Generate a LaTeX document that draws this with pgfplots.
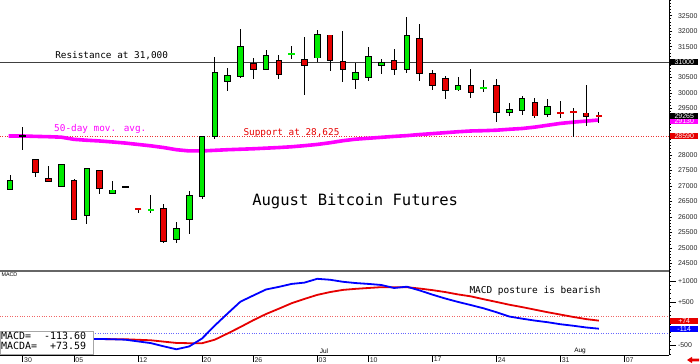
\documentclass[border=0pt]{standalone}
\usepackage{pgfplots}
\pgfplotsset{compat=1.18}
\usepackage{pgfplotstable}
\usepackage{fontspec}
\setmainfont{Liberation Sans}
\newfontfamily\mono{DejaVu Sans Mono}
\definecolor{cgreen}{RGB}{0,235,0}
\definecolor{cred}{RGB}{230,0,0}
\definecolor{cmag}{RGB}{255,0,255}
\definecolor{cblue}{RGB}{0,0,255}

% i = trading day (1 = May 26, 2023), open high low close
\pgfplotstableread{
i o h l c
1 26891 27343 26891 27169
5 26988 27708 26988 27676
7 26051 27569 25770 27569
9 26749 27169 26749 26868
14 25275 25834 25166 25618
15 25899 26826 25447 26675
16 26652 28591 26587 28591
17 28591 31156 28526 30658
18 30380 30810 30077 30574
19 30529 32061 30487 31498
21 30768 31392 30768 31221
25 31133 32038 31004 31886
28 30445 30962 30141 30658
29 30510 31479 30390 31175
30 30897 31111 30616 30994
32 30768 32448 30639 31867
36 30099 30529 30067 30251
40 29366 29670 29269 29463
41 29443 29906 29292 29818
43 29314 29799 29237 29550
}\greencandles
\pgfplotstableread{
i o h l c
3 27838 27838 27279 27440
4 27246 27644 27149 27149
6 27169 27214 25899 25899
8 27492 27492 26749 26910
13 26277 26406 25166 25211
20 30962 31133 30465 30768
22 31036 31221 30465 30594
24 31069 31802 29928 30897
26 31876 31876 30713 31036
27 31027 32015 30367 30746
31 31059 31414 30574 30746
33 31757 32222 30390 30639
34 30639 30746 30099 30251
35 30465 30552 29809 30077
37 30229 30768 29831 30012
39 30229 30445 29075 29379
42 29702 29831 29185 29259
46 29356 30251 28926 29227
}\redcandles
\pgfplotstableread{
i o h l c
12 26215 26697 26135 26230
23 31255 31521 31091 31270
38 30155 30413 30025 30170
}\greendash
\pgfplotstableread{
i o h l c
11 26270 26270 26135 26255
44 29365 29754 29204 29350
45 29385 29508 28571 29370
47 29265 29398 29023 29255
}\reddash
\pgfplotstableread{
i o h l c
2 28600 28914 28161 28600
10 26956 26970 26945 26956
}\blackdash

\pgfplotsset{
  errb/.style={draw=none, mark=none, forget plot,
    error bars/y dir=both, error bars/y explicit, error bars/error mark=none},
  wick/.style={errb, error bars/error bar style={draw=black, line width=0.9bp}},
  bodyout/.style={errb, error bars/error bar style={draw=black, line width=6.6bp}},
  bodyin/.style={errb, error bars/error bar style={draw=#1, line width=4.6bp}},
  dash/.style={only marks, forget plot, mark=-, mark size=3.3bp, mark options={draw=#1, line width=1.8bp}},
}
\newcommand{\wicks}[1]{\addplot[wick] table[x=i, y expr={(\thisrow{h}+\thisrow{l})/2}, y error expr={(\thisrow{h}-\thisrow{l})/2}] {#1};}
\newcommand{\bodies}[2]{%
  \addplot[bodyout] table[x=i, y expr={(\thisrow{o}+\thisrow{c})/2}, y error expr={abs(\thisrow{o}-\thisrow{c})/2+16}] {#1};
  \addplot[bodyin=#2] table[x=i, y expr={(\thisrow{o}+\thisrow{c})/2}, y error expr={max(abs(\thisrow{o}-\thisrow{c})/2-16,0)}] {#1};}
\newcommand{\dashes}[2]{\addplot[dash=#2] table[x=i, y expr={(\thisrow{o}+\thisrow{c})/2}] {#1};}

\begin{document}
\begin{tikzpicture}
\useasboundingbox (0bp,0bp) rectangle (700bp,364bp);
% ---------------- price panel
\begin{axis}[
  at={(0bp,93bp)}, anchor=south west, scale only axis,
  width=669bp, height=271bp,
  xmin=0.219, xmax=52.48, ymin=24251, ymax=33007,
  clip=false,
  axis x line*=bottom, axis y line*=right,
  x axis line style={draw=black!60, line width=2.6bp},
  y axis line style={draw=black, line width=0.8bp},
  xtick=\empty,
  ytick={24500,25000,25500,26000,26500,27000,27500,28000,29500,30000,30500,31500,32000,32500},
  minor ytick={24300,24400,...,33000},
  tick align=outside, major tick length=3bp, minor tick length=1.5bp,
  every tick/.style={black, line width=0.6bp},
  scaled y ticks=false,
  /pgf/number format/.cd, 1000 sep={}, assume math mode=true,
  /pgfplots/.cd,
  yticklabel style={font=\fontsize{7}{7}\selectfont, text=black!85, anchor=west, xshift=2.5bp},
]
\addplot[cred!80, dotted, line width=0.5bp] coordinates {(0.219,28590) (52.48,28590)};
\addplot[black!75, line width=0.7bp] coordinates {(0.219,31000) (52.48,31000)};
% 50-day moving average
\addplot[cmag, line width=3.6bp] coordinates {
(0.9,28613) (2,28613) (3,28600) (4,28590) (5,28575) (6,28505) (7,28475) (8,28452)
(9,28420) (10,28385) (11,28340) (12,28295) (13,28240) (14,28170) (15,28130) (16,28130)
(17,28150) (18,28170) (19,28185) (20,28200) (21,28220) (22,28240) (23,28265) (24,28300)
(25,28340) (26,28395) (27,28460) (28,28510) (29,28540) (30,28570) (31,28600) (32,28625)
(33,28660) (34,28690) (35,28720) (36,28750) (37,28775) (38,28785) (39,28800) (40,28830)
(41,28855) (42,28900) (43,28960) (44,29020) (45,29060) (46,29095) (47,29130)};
% candles
\wicks{\greencandles}\wicks{\redcandles}\wicks{\greendash}\wicks{\reddash}\wicks{\blackdash}
\bodies{\greencandles}{cgreen}
\bodies{\redcandles}{cred}
\dashes{\greendash}{cgreen}
\dashes{\reddash}{cred}
\dashes{\blackdash}{black}
% annotations
\node[anchor=base west, inner sep=0, font=\mono\fontsize{9.4}{10}\selectfont, text=black] at (axis cs:4.52,31124) {Resistance at 31,000};
\node[anchor=base west, inner sep=0, font=\mono\fontsize{9.4}{10}\selectfont, text=cmag] at (axis cs:4.44,28759) {50-day mov. avg.};
\node[anchor=base west, inner sep=0, font=\mono\fontsize{9.4}{10}\selectfont, text=cred] at (axis cs:19.23,28629) {Support at 28,625};
\node[anchor=base west, inner sep=0, font=\mono\fontsize{15.6}{16}\selectfont, text=black] at (axis cs:19.91,26361) {August Bitcoin Futures};
% right-hand value boxes
\node[anchor=west, xshift=1bp, inner sep=0, minimum width=28bp, minimum height=5.8bp, fill=black, text=white, font=\fontsize{7}{7}\selectfont] at (axis cs:52.48,31000) {31000};
\node[anchor=west, xshift=1bp, inner sep=0, minimum width=28bp, minimum height=5.8bp, fill=cmag, text=white, font=\fontsize{7}{7}\selectfont] at (axis cs:52.48,29085) {29130};
\node[anchor=west, xshift=1bp, inner sep=0, minimum width=28bp, minimum height=5.8bp, fill=black, text=white, font=\fontsize{7}{7}\selectfont] at (axis cs:52.48,29265) {29265};
\node[anchor=west, xshift=1bp, inner sep=0, minimum width=28bp, minimum height=5.8bp, fill=cred, text=white, font=\fontsize{7}{7}\selectfont] at (axis cs:52.48,28600) {28590};
\end{axis}
% ---------------- MACD panel
\begin{axis}[
  at={(0bp,9bp)}, anchor=south west, scale only axis,
  width=669bp, height=84bp,
  xmin=0.219, xmax=52.48, ymin=-727, ymax=1231,
  clip=false,
  axis x line*=bottom, axis y line*=right,
  x axis line style={draw=black, line width=0.8bp},
  y axis line style={draw=black, line width=0.8bp},
  xtick={2,6,11,16,20,25,29,34,39,44,49},
  xticklabels={30,05,12,20,26,03,10,17,24,31,07},
  ytick={-500,500,1000},
  yticklabels={-500,+500,+1000},
  minor ytick={-700,-600,...,1200},
  tick align=outside,
  every tick/.style={black, line width=0.6bp},
  major tick length=6.5bp, minor tick length=1.5bp,
  xticklabel style={font=\fontsize{7}{7}\selectfont, text=black!85, anchor=north west, inner sep=0pt, xshift=1.2bp, yshift=4.5bp},
  yticklabel style={font=\fontsize{7}{7}\selectfont, text=black!85, anchor=west, xshift=-1bp},
]
\addplot[cred!60, dotted, line width=0.45bp] coordinates {(0.219,185) (52.48,185)};
\addplot[cblue!60, dotted, line width=0.45bp] coordinates {(0.219,-220) (52.48,-220)};
% MACDA (signal)
\addplot[cred, line width=1.8bp] coordinates {
(1,-330) (2,-335) (3,-340) (4,-344) (5,-347) (6,-350) (7,-352) (8,-355) (9,-358) (10,-360)
(11,-372) (12,-384) (13,-415) (14,-446) (15,-452) (16,-453) (17,-370) (18,-225) (19,-75) (20,83)
(21,228) (22,352) (23,480) (24,580) (25,674) (26,740) (27,790) (28,815) (29,835) (30,854)
(31,854) (32,854) (33,822) (34,785) (35,740) (36,685) (37,640) (38,573) (39,510) (40,445)
(41,390) (42,330) (43,270) (44,215) (45,160) (46,110) (47,74)};
% MACD
\addplot[cblue, line width=1.8bp] coordinates {
(1,-330) (2,-335) (3,-340) (4,-344) (5,-347) (6,-350) (7,-352) (8,-354) (9,-360) (10,-370)
(11,-410) (12,-450) (13,-524) (14,-594) (15,-527) (16,-343) (17,-40) (18,241) (19,516) (20,659)
(21,800) (22,861) (23,930) (24,960) (25,1049) (26,1027) (27,980) (28,950) (29,930) (30,905)
(31,835) (32,865) (33,778) (34,680) (35,590) (36,510) (37,437) (38,361) (39,270) (40,170)
(41,120) (42,75) (43,37) (44,-10) (45,-45) (46,-85) (47,-114)};
\node[anchor=north west, inner sep=0, font=\fontsize{5.4}{6}\selectfont] at (rel axis cs:0.002,0.985) {MACD};
\node[anchor=base west, inner sep=0, font=\mono\fontsize{9.5}{10}\selectfont] at (axis cs:36.88,713) {MACD posture is bearish};
\node[font=\fontsize{6.5}{7}\selectfont, inner sep=0] at (axis cs:25.53,-640) {Jul};
\node[font=\fontsize{6.5}{7}\selectfont, inner sep=0] at (axis cs:45.53,-640) {Aug};
\node[anchor=south west, yshift=0.7bp, inner xsep=1bp, inner ysep=1bp, draw=black!35, fill=white, font=\mono\fontsize{10}{10.6}\selectfont] at (rel axis cs:0,0)
  {\begin{tabular}{@{}l@{\hspace{7bp}}r@{\hspace{6bp}}}MACD= & -113.60\\ MACDA= & +73.59\end{tabular}};
\node[anchor=west, xshift=1bp, inner sep=0, minimum width=28bp, minimum height=5.8bp, fill=cred, text=white, font=\fontsize{7}{7}\selectfont] at (axis cs:52.48,74) {+74};
\node[anchor=west, xshift=1bp, inner sep=0, minimum width=28bp, minimum height=5.8bp, fill=cblue, text=white, font=\fontsize{7}{7}\selectfont] at (axis cs:52.48,-114) {-114};
\end{axis}
% small red arrow, bottom right
\fill[cred] (687bp,4bp) -- (692bp,7.2bp) -- (692bp,5.3bp) -- (699bp,5.3bp) -- (699bp,2.7bp) -- (692bp,2.7bp) -- (692bp,0.8bp) -- cycle;
\end{tikzpicture}
\end{document}
